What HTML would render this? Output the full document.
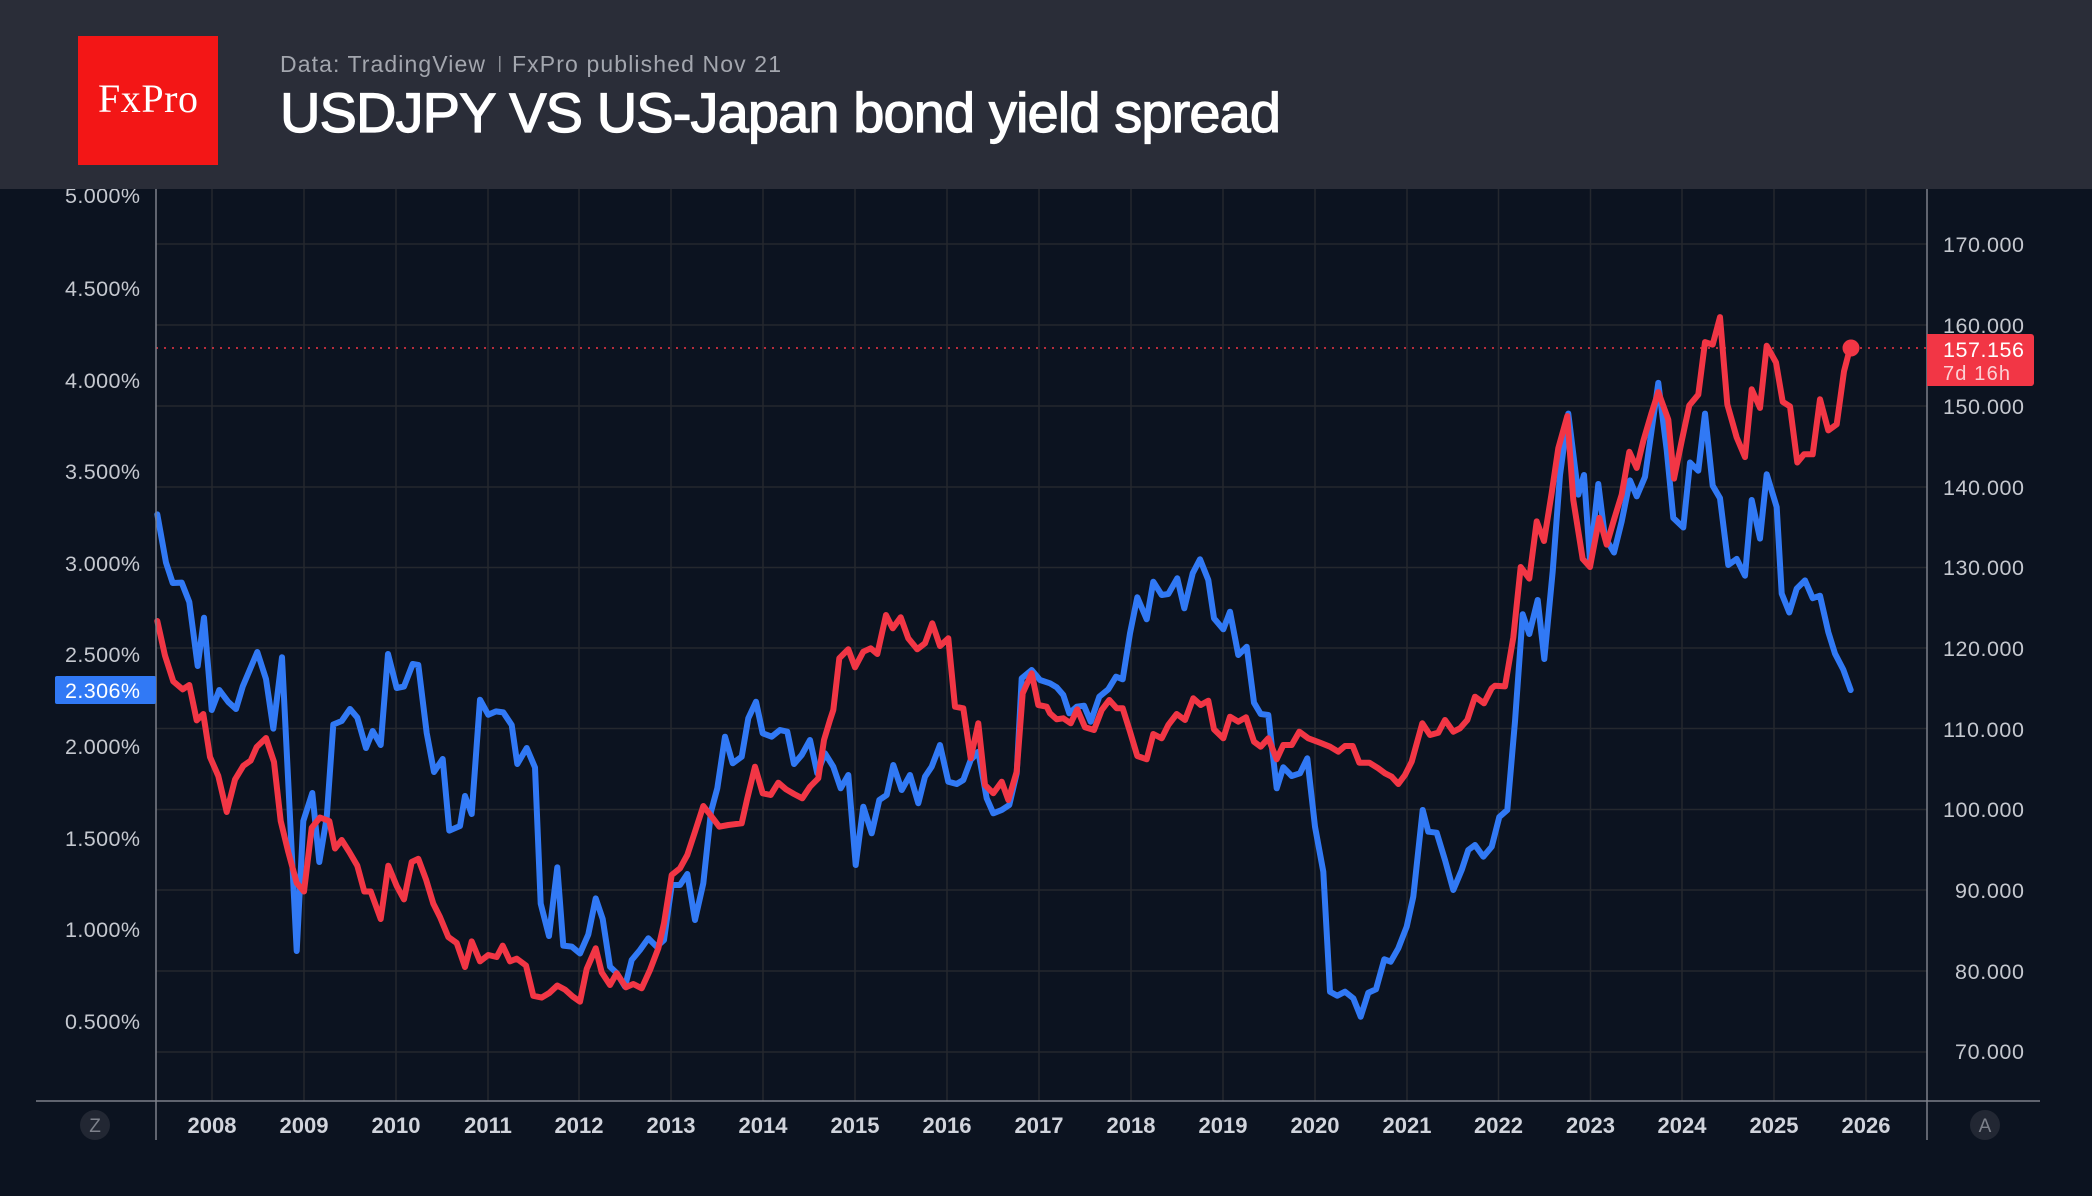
<!DOCTYPE html>
<html><head><meta charset="utf-8"><style>
html,body{margin:0;padding:0;background:#0c1320;width:2092px;height:1196px;overflow:hidden}
svg{display:block}
</style></head><body>
<svg width="2092" height="1196" viewBox="0 0 2092 1196" xmlns="http://www.w3.org/2000/svg" font-family="Liberation Sans, sans-serif">
<rect x="0" y="0" width="2092" height="1196" fill="#0c1320"/>
<!-- grid -->
<g stroke="#25282e" stroke-width="1.5">
<line x1="156" y1="244" x2="1927" y2="244"/><line x1="156" y1="325" x2="1927" y2="325"/><line x1="156" y1="406" x2="1927" y2="406"/><line x1="156" y1="487" x2="1927" y2="487"/><line x1="156" y1="567.5" x2="1927" y2="567.5"/><line x1="156" y1="648" x2="1927" y2="648"/><line x1="156" y1="728.5" x2="1927" y2="728.5"/><line x1="156" y1="809.5" x2="1927" y2="809.5"/><line x1="156" y1="890" x2="1927" y2="890"/><line x1="156" y1="971" x2="1927" y2="971"/><line x1="156" y1="1052" x2="1927" y2="1052"/>
<line x1="212" y1="189" x2="212" y2="1101"/><line x1="304" y1="189" x2="304" y2="1101"/><line x1="396" y1="189" x2="396" y2="1101"/><line x1="488" y1="189" x2="488" y2="1101"/><line x1="579" y1="189" x2="579" y2="1101"/><line x1="671" y1="189" x2="671" y2="1101"/><line x1="763" y1="189" x2="763" y2="1101"/><line x1="855" y1="189" x2="855" y2="1101"/><line x1="947" y1="189" x2="947" y2="1101"/><line x1="1039" y1="189" x2="1039" y2="1101"/><line x1="1131" y1="189" x2="1131" y2="1101"/><line x1="1223" y1="189" x2="1223" y2="1101"/><line x1="1315" y1="189" x2="1315" y2="1101"/><line x1="1407" y1="189" x2="1407" y2="1101"/><line x1="1498.5" y1="189" x2="1498.5" y2="1101"/><line x1="1590.5" y1="189" x2="1590.5" y2="1101"/><line x1="1682" y1="189" x2="1682" y2="1101"/><line x1="1774" y1="189" x2="1774" y2="1101"/><line x1="1866" y1="189" x2="1866" y2="1101"/>
</g>
<!-- dotted price line -->
<line x1="156" y1="348" x2="1927" y2="348" stroke="#f23645" stroke-width="1.5" stroke-dasharray="2 6"/>
<!-- series -->
<polyline fill="none" stroke="#3179f5" stroke-width="6" stroke-linejoin="round" stroke-linecap="round" points="157.3,514.4 166,562.6 172.7,583 181.7,582.6 189.3,602 197.7,666 204,617.7 211.7,710 219.3,690 228.3,702 236,709 242.7,686.6 257.3,652 266,679 273.3,728.6 282,657.3 296.7,951 303.3,821 312.3,793 319.3,862 326.7,817.5 333.3,724.5 341.7,721 350,709 357.3,717.6 366,748 372.7,731 380.7,745 388,654 396.7,688 404,686.6 412.7,664 418.3,665 426.7,733 434,772 442.7,759 449.3,830.6 460,826 465,796 471.7,814 480,699.7 488.3,714.8 496,711.4 503.3,712.4 511.7,725 517.3,764 526.7,748 535,767.5 540.7,903.6 549,936 557.3,867.4 563.3,945.6 571.7,946.6 580,953.5 588.3,934.5 595.7,898.4 602.7,919 610,966.7 616.7,973 625,986.7 631.7,960 640,950 648.3,938.3 656.7,946.7 664,940 671.7,885 680,885 687.3,874 695,920 703.3,883.3 711,811.7 717.3,788.3 725,736.7 732.7,763.3 741.7,756.7 748.3,718.3 756,701.7 762.7,733.3 771.7,736.7 780,730 787.3,731.7 794,764 801.7,755 810,740 817.3,773.3 825,753.3 833.3,766.7 840.7,788.3 848.3,775 855.7,865 863.3,806.7 871.7,833.3 879.3,800 886.7,795 893.3,765 901.7,790 910,775 918.3,803.3 925,776.7 931.7,766.7 940,745 948.3,781.7 956.7,784 963.3,780 970.7,760 978.3,751.7 986.7,798.3 993.3,813.3 1001.7,810 1009.3,805 1016.7,773.3 1021.7,678.3 1031.7,670 1040,680 1050,683.3 1056.7,687.3 1063.3,695 1069.3,713.3 1076.7,706.7 1084,705.7 1090.7,721.7 1099.3,696.7 1108.3,689.3 1116,676.7 1122.7,679.3 1130,633.3 1137.3,597.3 1146.7,619.3 1153.3,581.7 1161.7,595 1168.3,594 1177.3,578.3 1184.3,608.3 1192.7,573.3 1200,559.3 1208.3,580 1214,618.3 1223.3,629.3 1230,611.7 1238.3,655 1246.7,646.7 1254,702.7 1260.7,714 1268.3,715 1276.7,788.3 1283.3,767.3 1291.7,776 1300,773.3 1307.3,758.3 1315,826.7 1323.3,871.7 1330,991.7 1337.3,995.7 1345,991.7 1353.3,998.3 1360.7,1016.7 1368.3,992.7 1376,989.3 1384.3,959.3 1390.7,961.7 1398.3,948.3 1406.7,926.7 1413.3,896.7 1422.7,810 1428.3,831.7 1436.7,832.7 1445,860 1453.3,890 1461.7,870 1468.3,850 1475,845 1483.3,856.7 1491.7,846.7 1499.3,817 1507.3,810 1515,721.4 1522.7,614.3 1529.3,634 1537.7,600 1544.3,659 1552.7,571.4 1560,475 1568.3,413.6 1578.3,494.6 1584,475 1590,560.7 1598.3,484 1605,537.5 1614,552.5 1621.7,521.4 1630,480.4 1636.7,496.4 1645,476.8 1658.3,382.9 1666.7,450 1673.3,517.9 1683.3,527.5 1690,462.5 1698.3,470.7 1705,413.6 1712.7,485.7 1720,498.2 1728.3,565 1736.7,558.9 1745,575.7 1751.7,500 1760,538.6 1766.7,474.3 1776.7,507.1 1781.7,593.6 1789.3,612.5 1796.7,588.6 1805,580.4 1812.7,598.2 1820,595.7 1828.3,632.1 1835,653.6 1843.3,669.6 1850.7,690"/>
<polyline fill="none" stroke="#f23645" stroke-width="6" stroke-linejoin="round" stroke-linecap="round" points="157.3,621 165,655.6 173.3,681.4 182.7,689.4 189.3,685 196.7,720.4 203.3,714 210,757 218.3,776 226.7,812 235,779.6 243.3,765.8 250.7,760.6 256.7,747 266,738 274,762 280.7,821 288.3,852 296.7,883 304,891.5 311.7,827.8 320,817.5 329.3,821 335,848.5 341.7,840 349.3,852 357.3,865.7 364.3,891.5 370.7,891.5 380.7,919 388.3,865.7 396.7,886 404,899.4 411.7,862 418.3,858.8 426,879.4 433.3,903.6 440,917 448.3,937 456.7,943 465,967 471.7,941.4 480,961.4 488.3,955 496.7,957 502.7,945.6 510,961.4 516.7,958.6 526,965.5 533.3,995.8 541.7,997.6 549.3,993 557.3,985.5 565,989.6 572.7,996.5 580,1001.7 586.7,969 595.7,948.3 601.7,972.4 610,985 616.7,973.3 626,987.3 633.3,984 641.7,988.3 650,970 658.3,948.3 664,923.3 671.7,875 680,868.3 687.3,855 695,831.7 703.3,806 711.7,816.7 719.3,826.7 728.3,825 741.7,823.3 747.3,798.3 755,766.7 762.7,793.3 770.7,795 778.3,782.7 786,789.3 794,794 802.3,798.3 810,786.7 818.3,778.3 824,740 830,720 833.3,710 839.3,658.3 848.3,649.3 855,667.3 863.3,651.7 870.7,648.3 877.3,654 886,615 892.7,628.3 900.7,617.3 908.3,638.3 917.3,649.3 925,643.3 932.3,623.3 940,646 948.3,638.3 955,706.7 963.3,708.3 970.7,758.3 978.3,723.3 985,785 993.3,793.3 1001.7,781.7 1008.3,800 1016.7,771.7 1022.7,693.3 1031.7,673.3 1038.3,705 1046.7,706.7 1050,713.3 1056.7,719.3 1063.3,718.3 1070.7,723.3 1077.3,709.3 1085,727.3 1094,730 1101.7,710 1109.3,700 1116.7,708.3 1122.7,708.3 1130,731.7 1137.3,756 1146.7,759.3 1153.3,734 1161.7,738.3 1168.3,725 1176.7,714 1185,720 1193.3,698.3 1200.7,705 1208.3,700.7 1214,729.3 1223.3,738.3 1230,716.7 1238.3,721.7 1246,717.3 1254,741.7 1260.7,746.7 1268.3,738.3 1276.7,759.3 1283.3,745 1291.7,745 1299.3,731.7 1308.3,738.3 1320,742.7 1330,746.7 1338.3,751.7 1345,746 1352.7,746 1359.3,762.7 1369.3,762.7 1378.3,768.3 1385,773.3 1391.7,776.7 1398.3,784 1405,775 1411.7,761.7 1422.3,723.3 1430,735 1438.3,732.7 1445,720 1453.3,731.7 1460,728.3 1467.3,720 1475,696.7 1484,703.3 1491.7,688.3 1495,685.7 1505,686.4 1513.3,637.5 1520.7,567 1529.3,578.6 1536.7,521.4 1544,541 1551.7,492.9 1558.3,448.2 1567.3,416 1573.3,500 1582.7,558.9 1590,567 1599.3,517.9 1606.7,544.6 1614,519.6 1621.7,494.6 1629.3,451.8 1636.7,467.9 1643.3,441 1651.7,412.5 1658.3,392.1 1668.3,419.6 1674,478.6 1681.7,441 1689.3,405.4 1698.3,394.6 1705,342.1 1712.7,344.6 1720,317.1 1727.3,404.3 1736.7,437.5 1745,457.1 1751.7,389.3 1760,407.9 1766.7,345.7 1776,362.5 1782.7,401.8 1790,406.4 1797.3,462.5 1804,454.3 1812.7,454.3 1820,399.3 1828.3,430.4 1836.7,424.3 1844,371.4 1850,348.2"/>
<circle cx="1851" cy="348" r="8.5" fill="#f23645"/>
<!-- axes -->
<g stroke="#7d8089" stroke-width="1.5">
<line x1="156" y1="189" x2="156" y2="1140"/>
<line x1="1927" y1="189" x2="1927" y2="1140"/>
<line x1="36" y1="1101" x2="2040" y2="1101"/>
</g>
<!-- left labels -->
<g fill="#c5c8cf" font-size="21.5" text-anchor="end">
<text x="140" y="203" textLength="75">5.000%</text>
<text x="140" y="296" textLength="75">4.500%</text>
<text x="140" y="388" textLength="75">4.000%</text>
<text x="140" y="479" textLength="75">3.500%</text>
<text x="140" y="571" textLength="75">3.000%</text>
<text x="140" y="662" textLength="75">2.500%</text>
<text x="140" y="754" textLength="75">2.000%</text>
<text x="140" y="846" textLength="75">1.500%</text>
<text x="140" y="937" textLength="75">1.000%</text>
<text x="140" y="1029" textLength="75">0.500%</text>
</g>
<rect x="55" y="676" width="101" height="28" rx="2" fill="#3179f5"/>
<text x="140" y="698" fill="#ffffff" font-size="21.5" text-anchor="end" textLength="75">2.306%</text>
<!-- right labels -->
<g fill="#c5c8cf" font-size="21.5">
<text x="1943" y="252" textLength="81">170.000</text>
<text x="1943" y="333" textLength="81">160.000</text>
<text x="1943" y="414" textLength="81">150.000</text>
<text x="1943" y="495" textLength="81">140.000</text>
<text x="1943" y="575" textLength="81">130.000</text>
<text x="1943" y="656" textLength="81">120.000</text>
<text x="1943" y="737" textLength="81">110.000</text>
<text x="1943" y="817" textLength="81">100.000</text>
<text x="1955" y="898" textLength="69">90.000</text>
<text x="1955" y="979" textLength="69">80.000</text>
<text x="1955" y="1059" textLength="69">70.000</text>
</g>
<path d="M1927 334 H2031 a3 3 0 0 1 3 3 V383 a3 3 0 0 1 -3 3 H1927 Z" fill="#f23645"/>
<text x="1943" y="357" fill="#ffffff" font-size="21.5" textLength="81">157.156</text>
<text x="1943" y="380" fill="#fbd0d4" font-size="20" textLength="67">7d 16h</text>
<!-- year labels -->
<g fill="#d1d4dc" font-size="22" font-weight="bold" text-anchor="middle">
<text x="212" y="1133">2008</text>
<text x="304" y="1133">2009</text>
<text x="396" y="1133">2010</text>
<text x="488" y="1133">2011</text>
<text x="579" y="1133">2012</text>
<text x="671" y="1133">2013</text>
<text x="763" y="1133">2014</text>
<text x="855" y="1133">2015</text>
<text x="947" y="1133">2016</text>
<text x="1039" y="1133">2017</text>
<text x="1131" y="1133">2018</text>
<text x="1223" y="1133">2019</text>
<text x="1315" y="1133">2020</text>
<text x="1407" y="1133">2021</text>
<text x="1498.5" y="1133">2022</text>
<text x="1590.5" y="1133">2023</text>
<text x="1682" y="1133">2024</text>
<text x="1774" y="1133">2025</text>
<text x="1866" y="1133">2026</text>
</g>
<circle cx="95" cy="1125" r="15" fill="#222733"/>
<text x="95" y="1132" fill="#7d818b" font-size="19" text-anchor="middle">Z</text>
<circle cx="1985" cy="1125" r="15" fill="#222733"/>
<text x="1985" y="1132" fill="#7d818b" font-size="19" text-anchor="middle">A</text>
<!-- header -->
<rect x="0" y="0" width="2092" height="189" fill="#2a2d38"/>
<rect x="78" y="36" width="140" height="129" fill="#f31616"/>
<text x="148" y="112" fill="#ffffff" font-family="Liberation Serif, serif" font-size="40" text-anchor="middle" textLength="100">FxPro</text>
<text x="280" y="72" fill="#a3a6ae" font-size="23" textLength="205">Data: TradingView</text>
<rect x="499" y="56" width="1.5" height="16" fill="#8a8d95"/>
<text x="512" y="72" fill="#a3a6ae" font-size="23" textLength="269">FxPro published Nov 21</text>
<text x="280" y="132" fill="#ffffff" stroke="#ffffff" stroke-width="1.2" font-size="56" textLength="1001">USDJPY VS US-Japan bond yield spread</text>
</svg>
</body></html>
